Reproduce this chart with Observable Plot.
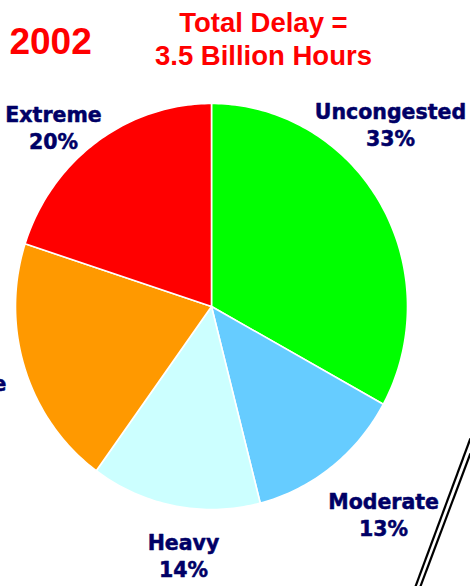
<!DOCTYPE html>
<html><head><meta charset="utf-8">
<script src="https://cdn.jsdelivr.net/npm/d3@7"></script>
<script src="https://cdn.jsdelivr.net/npm/@observablehq/plot@0.6"></script>
<style>html,body{margin:0;padding:0;background:#fff;overflow:hidden}</style>
</head><body><div id="chart"></div>
<script>
// ---- data ----
const categories = ["Uncongested", "Moderate", "Heavy", "Severe", "Extreme"];
const shares = [33, 13, 14, 20, 20];
const sliceColors = ["#00ff00", "#66ccff", "#ccffff", "#ff9900", "#ff0000"];
const yearLabel = "2002";
const titleLines = ["Total Delay =", "3.5 Billion Hours"];

// ---- slice geometry (unit circle, clockwise from top) ----
const total = d3.sum(shares);
let acc = 0;
const slicePts = [];
categories.forEach((c, i) => {
  const a0 = acc / total * 2 * Math.PI;
  acc += shares[i];
  const a1 = acc / total * 2 * Math.PI;
  slicePts.push({cat: c, x: 0, y: 0});
  const n = Math.max(2, Math.ceil((a1 - a0) / (Math.PI / 180)));
  for (let k = 0; k <= n; k++) {
    const a = a0 + (a1 - a0) * k / n;
    slicePts.push({cat: c, x: Math.sin(a), y: Math.cos(a)});
  }
  slicePts.push({cat: c, x: 0, y: 0});
});

// ---- label layout (data units) ----
const labelLayout = {
  Uncongested: [0.913, 0.899],
  Moderate: [0.878, -1.022],
  Heavy: [-0.143, -1.222],
  Severe: [-1.25, -0.438],
  Extreme: [-0.806, 0.887]
};
const labels = categories.map((c, i) => ({
  text: `${c}\n${shares[i]}%`, x: labelLayout[c][0], y: labelLayout[c][1]
}));

// decorative divider (data units)
const divider = [
  {x1: 1.321, y1: -0.650, x2: 1.041, y2: -1.379},
  {x1: 1.321, y1: -0.724, x2: 1.066, y2: -1.379}
];

const chart = Plot.plot({
  width: 470, height: 586,
  margin: 0,
  x: {domain: [-1, 1], range: [15, 407], axis: null},
  y: {domain: [-1, 1], range: [509, 103], axis: null},
  color: {type: "ordinal", domain: categories, range: sliceColors},
  style: {background: "#fff", overflow: "visible"},
  marks: [
    Plot.line(slicePts, {x: "x", y: "y", z: "cat", fill: "cat", stroke: "#fff", strokeWidth: 1.6, curve: "linear-closed"}),
    Plot.link(divider, {x1: "x1", y1: "y1", x2: "x2", y2: "y2", stroke: "#000", strokeWidth: 2.2}),
    Plot.text(labels, {x: "x", y: "y", text: "text", fill: "#000066", stroke: "#000066", strokeWidth: 0.5,
      fontSize: 20.5, fontWeight: "bold",
      fontFamily: "DejaVu Sans, Verdana, sans-serif", lineHeight: 1.32, textAnchor: "middle"}),
    Plot.text([yearLabel], {x: () => -0.821, y: () => 1.300, text: d => d, fill: "#ff0000", fontSize: 37,
      fontWeight: "bold", fontFamily: "Liberation Sans, Arial, sans-serif"}),
    Plot.text([titleLines.join("\n")], {x: () => 0.265, y: () => 1.323, text: d => d, fill: "#ff0000", fontSize: 27.5,
      fontWeight: "bold", fontFamily: "Liberation Sans, Arial, sans-serif", lineHeight: 1.2})
  ]
});
document.getElementById("chart").appendChild(chart);
</script>
</body></html>
